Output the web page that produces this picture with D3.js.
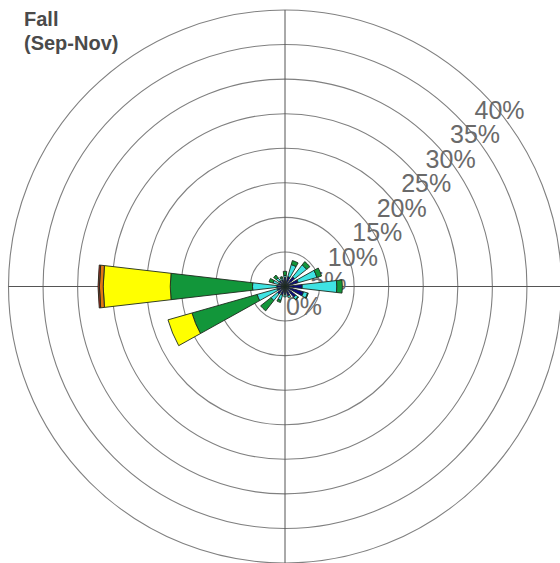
<!DOCTYPE html>
<html>
<head>
<meta charset="utf-8">
<script src="https://cdn.jsdelivr.net/npm/d3@7"></script>
<style>
	body { margin:0; background:#fff; }
	svg { display:block; }
</style>
</head>
<body>
<script>
// wind directions, clockwise from north
var dirs = ["N","NNE","NE","ENE","E","ESE","SE","SSE","S","SSW","SW","WSW","W","WNW","NW","NNW"];

// frequency (%) per speed class, one value per direction
var s1 = [1.3, 1.5, 1.8, 2.0, 2.5, 2.8, 2.0, 1.4, 1.2, 1.3, 1.4, 1.2, 1.2, 1.0, 1.1, 1.0];
var s2 = [0.3, 1.8, 2.2, 2.8, 5.0, 0.6, 0.4, 0.3, 0.3, 0.8, 1.2, 3.0, 3.5, 0.8, 0.5, 0.3];
var s3 = [0.6, 0.6, 0.6, 0.7, 0.8, 0.1, 0.1, 0.0, 0.0, 0.3, 1.9, 9.8, 11.9, 0.6, 0.5, 0.2];
var s4 = [0, 0, 0, 0, 0, 0, 0, 0, 0, 0, 0, 3.6, 9.7, 0, 0, 0];
var s5 = [0, 0, 0, 0, 0, 0, 0, 0, 0, 0, 0, 0, 0.55, 0, 0, 0];
var s6 = [0, 0, 0, 0, 0, 0, 0, 0, 0, 0, 0, 0, 0.2, 0, 0, 0];

var classes = ["s1","s2","s3","s4","s5","s6"];
var colors  = ["#0a0a80","#3fe3e3","#12963a","#ffff00","#e07812","#c0281e"];

var rings = [5, 10, 15, 20, 25, 30, 35, 40];
var ringLabels = [0, 5, 10, 15, 20, 25, 30, 35, 40];
var title = ["Fall", "(Sep-Nov)"];

var W = 560, H = 563;
var cx = 285, cy = 286.5;

var svg = d3.select("body").append("svg").attr("width", W).attr("height", H);

var r = d3.scaleLinear().domain([0, 40]).range([0, 276.5]);

// grid //{{{
var grid = svg.append("g").attr("transform", "translate(" + cx + "," + cy + ")");
grid.selectAll("circle").data(rings).enter().append("circle")
	.attr("r", function(d) { return r(d); })
	.attr("fill", "none")
	.attr("stroke", "#808080")
	.attr("stroke-width", 1.1);
grid.append("line").attr("x1", -r(40)).attr("x2", r(40)).attr("y1", 0).attr("y2", 0)
	.attr("stroke", "#555").attr("stroke-width", 1);
grid.append("line").attr("x1", 0).attr("x2", 0).attr("y1", -r(40)).attr("y2", r(40))
	.attr("stroke", "#555").attr("stroke-width", 1);
//}}}
// ring labels //{{{
var c45 = Math.SQRT1_2;
grid.selectAll("text.lbl").data(ringLabels).enter().append("text")
	.attr("class", "lbl")
	.attr("x", function(d) { return r(d) * c45 + 19; })
	.attr("y", function(d) { return -r(d) * c45 + 19; })
	.attr("dy", "0.36em")
	.attr("text-anchor", "middle")
	.attr("font-family", "Liberation Sans, Arial, sans-serif")
	.attr("font-size", 25)
	.attr("fill", "#6a6a6a")
	.text(function(d) { return d + "%"; });
//}}}
// petals //{{{
var table = dirs.map(function(d, i) {
	return { dir: d, i: i, s1: s1[i], s2: s2[i], s3: s3[i], s4: s4[i], s5: s5[i], s6: s6[i] };
});
var stack = d3.stack().keys(classes)(table);
var step = 2 * Math.PI / dirs.length;
var half = 6.6 * Math.PI / 180;
var arc = d3.arc()
	.innerRadius(function(d) { return r(d[0]); })
	.outerRadius(function(d) { return r(d[1]); })
	.startAngle(function(d) { return d.data.i * step - half; })
	.endAngle(function(d) { return d.data.i * step + half; });

var petals = svg.append("g").attr("transform", "translate(" + cx + "," + cy + ")");
stack.forEach(function(layer, k) {
	petals.append("g").selectAll("path")
		.data(layer.filter(function(d) { return d[1] - d[0] > 0; }))
		.enter().append("path")
		.attr("d", arc)
		.attr("fill", colors[k])
		.attr("stroke", "#1e2a1e")
		.attr("stroke-width", 0.9)
		.attr("stroke-linejoin", "round");
});
//}}}
// title //{{{
svg.append("text")
	.attr("x", 24).attr("y", 26)
	.attr("font-family", "Liberation Sans, Arial, sans-serif")
	.attr("font-weight", "bold")
	.attr("font-size", 20)
	.attr("fill", "#4a4a4a")
	.selectAll("tspan").data(title).enter().append("tspan")
	.attr("x", 24)
	.attr("dy", function(d, i) { return i ? 24 : 0; })
	.text(function(d) { return d; });
//}}}
</script>
</body>
</html>
